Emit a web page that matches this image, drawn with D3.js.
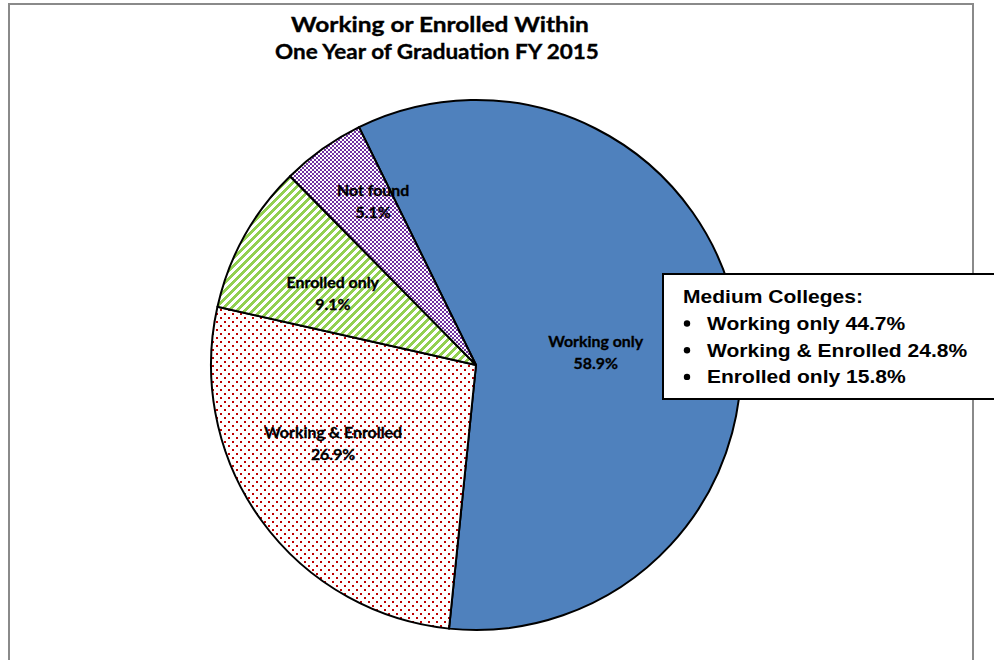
<!DOCTYPE html>
<html>
<head>
<meta charset="utf-8">
<script src="https://cdn.jsdelivr.net/npm/d3@7"></script>
<style>
  body { margin: 0; background: #fff; }
  svg { display: block; }
</style>
</head>
<body>
<div id="vis"></div>
<script>
// chart data
const CATEGORIES = ["Working only", "Working & Enrolled", "Enrolled only", "Not found"];
const VALUES = [58.9, 26.9, 9.1, 5.1];
const TITLE_LINES = ["Working or Enrolled Within", "One Year of Graduation FY 2015"];
const NOTE_TITLE = "Medium Colleges:";
const NOTE_CATEGORIES = ["Working only", "Working & Enrolled", "Enrolled only"];
const NOTE_VALUES = [44.7, 24.8, 15.8];

// frame
const FRAME_WIDTH = 994;
const FRAME_HEIGHT = 660;
const CENTER = {x: 476, y: 365};
const RADIUS = 265;
const START = -26.2 * Math.PI / 180;

// where each slice label sits (angle from 12 o'clock, distance from center)
const LABEL_LAYOUT = [{a: 86, r: 120}, {a: 240, r: 165}, {a: 295, r: 158}, {a: 327, r: 189}];

const LABEL_FONT = "Lato, 'Open Sans', sans-serif";
const NOTE_FONT = "'Liberation Sans', Arial, sans-serif";

const svg = d3.select("#vis")
  .append("svg")
    .attr("width", FRAME_WIDTH)
    .attr("height", FRAME_HEIGHT);

// patterns
const defs = svg.append("defs");

// red dots
const dots = defs.append("pattern")
  .attr("id", "dots").attr("patternUnits", "userSpaceOnUse")
  .attr("width", 8).attr("height", 8);
dots.append("rect").attr("width", 8).attr("height", 8).attr("fill", "#fff");
dots.selectAll("rect.d").data([[0, 0], [4, 4]]).enter().append("rect")
  .attr("class", "d")
  .attr("x", d => d[0]).attr("y", d => d[1])
  .attr("width", 2).attr("height", 2)
  .attr("fill", "#C00000");

// green upward diagonal stripes
const stripes = defs.append("pattern")
  .attr("id", "stripes").attr("patternUnits", "userSpaceOnUse")
  .attr("width", 8).attr("height", 8);
stripes.append("rect").attr("width", 8).attr("height", 8).attr("fill", "#fff");
const stripeCells = [];
for (let y = 0; y < 8; y++) {
  for (let x = 0; x < 8; x++) {
    if ((x + y) % 8 < 4) stripeCells.push([x, y]);
  }
}
stripes.selectAll("rect.s").data(stripeCells).enter().append("rect")
  .attr("class", "s")
  .attr("x", d => d[0]).attr("y", d => d[1])
  .attr("width", 1).attr("height", 1)
  .attr("fill", "#92D050");

// purple small checker
const checker = defs.append("pattern")
  .attr("id", "checker").attr("patternUnits", "userSpaceOnUse")
  .attr("width", 4).attr("height", 4);
checker.append("rect").attr("width", 4).attr("height", 4).attr("fill", "#fff");
checker.selectAll("rect.c").data([[0, 0], [2, 2]]).enter().append("rect")
  .attr("class", "c")
  .attr("x", d => d[0]).attr("y", d => d[1])
  .attr("width", 2).attr("height", 2)
  .attr("fill", "#7030A0");

const FILLS = ["#4F81BD", "url(#dots)", "url(#stripes)", "url(#checker)"];

// chart area border
svg.append("rect")
  .attr("x", 9).attr("y", 4)
  .attr("width", 964).attr("height", 700)
  .attr("fill", "none")
  .attr("stroke", "#8a8a8a")
  .attr("stroke-width", 2);

// stretch a text element so it takes a given width
function fitText(sel, x, y, width, anchor) {
  const w = sel.node().getComputedTextLength();
  const sx = width / w;
  sel.attr("x", 0).attr("y", 0)
     .attr("text-anchor", anchor)
     .attr("transform", "translate(" + x + "," + y + ") scale(" + sx + ",1)");
  return sx;
}

// title
const titleG = svg.append("g");
const TITLE_POS = [{x: 440, y: 32, w: 298}, {x: 437, y: 59, w: 324}];
TITLE_LINES.forEach((t, i) => {
  const txt = titleG.append("text")
    .attr("font-family", LABEL_FONT)
    .attr("font-weight", "bold")
    .attr("font-size", 21)
    .attr("fill", "#000")
    .attr("stroke", "#000")
    .attr("stroke-width", 0.35)
    .text(t);
  fitText(txt, TITLE_POS[i].x, TITLE_POS[i].y, TITLE_POS[i].w, "middle");
});

// pie
const pie = d3.pie().sort(null).value(d => d)
  .startAngle(START).endAngle(START + 2 * Math.PI);
const arc = d3.arc().innerRadius(0).outerRadius(RADIUS);
const arcs = pie(VALUES);

const pieG = svg.append("g")
  .attr("transform", "translate(" + CENTER.x + "," + CENTER.y + ")");

pieG.selectAll("path")
  .data(arcs)
  .enter()
  .append("path")
    .attr("d", arc)
    .attr("fill", (d, i) => FILLS[i])
    .attr("stroke", "#000")
    .attr("stroke-width", 2)
    .attr("stroke-linejoin", "round");

// slice labels
const labelG = pieG.append("g");
let labelScale = null;
arcs.forEach((d, i) => {
  const a = LABEL_LAYOUT[i].a * Math.PI / 180;
  const lx = LABEL_LAYOUT[i].r * Math.sin(a);
  const ly = -LABEL_LAYOUT[i].r * Math.cos(a);
  const lines = [CATEGORIES[i], d.data.toFixed(1) + "%"];
  lines.forEach((t, j) => {
    const txt = labelG.append("text")
      .attr("font-family", LABEL_FONT)
      .attr("font-weight", "bold")
      .attr("font-size", 15)
      .attr("fill", "#000")
      .attr("stroke", "#000")
      .attr("stroke-width", 0.3)
      .text(t);
    if (labelScale === null) {
      labelScale = 95 / txt.node().getComputedTextLength();
    }
    txt.attr("text-anchor", "middle")
       .attr("transform", "translate(" + lx + "," + (ly - 10 + j * 22) + ") scale(" + labelScale + ",1)");
  });
});

// note box
const noteG = svg.append("g");
noteG.append("rect")
  .attr("x", 663).attr("y", 274)
  .attr("width", 340).attr("height", 125)
  .attr("fill", "#fff")
  .attr("stroke", "#000")
  .attr("stroke-width", 2);

const noteTitle = noteG.append("text")
  .attr("font-family", NOTE_FONT)
  .attr("font-weight", "bold")
  .attr("font-size", 18.5)
  .attr("fill", "#000")
  .text(NOTE_TITLE);
const noteScale = fitText(noteTitle, 683, 303, 180, "start");

NOTE_CATEGORIES.forEach((c, i) => {
  const y = 330 + i * 26.7;
  noteG.append("circle")
    .attr("cx", 687).attr("cy", y - 6.5)
    .attr("r", 3.2)
    .attr("fill", "#000");
  noteG.append("text")
    .attr("font-family", NOTE_FONT)
    .attr("font-weight", "bold")
    .attr("font-size", 18.5)
    .attr("fill", "#000")
    .attr("transform", "translate(707," + y + ") scale(" + noteScale + ",1)")
    .text(c + " " + NOTE_VALUES[i].toFixed(1) + "%");
});
</script>
</body>
</html>
